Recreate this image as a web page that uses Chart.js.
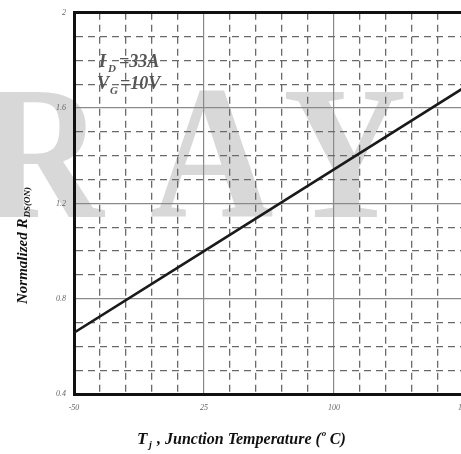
<!DOCTYPE html>
<html>
<head>
<meta charset="utf-8">
<script src="https://cdn.jsdelivr.net/npm/chart.js@4"></script>
<style>
  html, body { margin: 0; padding: 0; background: #fff; overflow: hidden; }
  #wrap { width: 480px; height: 454px; }
</style>
</head>
<body>
<div id="wrap"><canvas id="rds-chart" width="480" height="454"></canvas></div>
<script>
// junction temperature (deg C) vs normalized Rds(on)
var temp_c = [-50, 25, 100, 175];
var rds_norm = [0.657, 1.0, 1.343, 1.686];

var x_major = [-50, 25, 100, 175];
var y_major = [0.4, 0.8, 1.2, 1.6, 2];

var serif = "'Liberation Serif', 'DejaVu Serif', serif";

function is_major_x(v) {
  return x_major.indexOf(Math.round(v)) >= 0;
}
function is_major_y(v) {
  return Math.round(v * 10) % 4 === 0;
}

// background watermark + text with subscripts
var extras = {
  id: "extras",
  beforeDraw(chart) {
    var ctx = chart.ctx;
    var sx = 0.9;
    ctx.save();
    ctx.fillStyle = "rgba(190, 190, 190, 0.6)";
    ctx.font = "bold 190px " + serif;
    ctx.textBaseline = "alphabetic";
    ctx.scale(sx, 1);
    ctx.fillText("R", -20 / sx, 217);
    ctx.fillText("A", 150 / sx, 217);
    ctx.fillText("Y", 283 / sx, 217);
    ctx.restore();
  },
  afterDraw(chart) {
    var ctx = chart.ctx;
    ctx.save();
    ctx.textBaseline = "alphabetic";

    // conditions box
    ctx.fillStyle = "#555";
    ctx.font = "bold italic 18px " + serif;
    ctx.fillText("I", 99, 67);
    ctx.font = "bold italic 11px " + serif;
    ctx.fillText("D", 108, 72);
    ctx.font = "bold italic 18px " + serif;
    ctx.fillText("=33A", 119, 67);
    ctx.fillText("V", 97, 89);
    ctx.font = "bold italic 11px " + serif;
    ctx.fillText("G", 110, 94);
    ctx.font = "bold italic 18px " + serif;
    ctx.fillText("=10V", 120, 89);

    // x title
    ctx.fillStyle = "#111";
    var x0 = 137, yb = 444;
    ctx.font = "bold italic 17px " + serif;
    ctx.fillText("T", x0, yb);
    ctx.font = "bold italic 10px " + serif;
    ctx.fillText("j", x0 + 12, yb + 4);
    ctx.font = "bold italic 16px " + serif;
    ctx.fillText(" , Junction Temperature (", x0 + 16, yb);
    var w = ctx.measureText(" , Junction Temperature (").width;
    ctx.font = "bold italic 9px " + serif;
    ctx.fillText("o", x0 + 16 + w + 1, yb - 8);
    ctx.font = "bold italic 16px " + serif;
    ctx.fillText(" C)", x0 + 16 + w + 5, yb);

    // y title (rotated)
    ctx.translate(27, 304);
    ctx.rotate(-Math.PI / 2);
    ctx.font = "bold italic 15px " + serif;
    ctx.fillText("Normalized R", 0, 0);
    var w2 = ctx.measureText("Normalized R").width;
    ctx.font = "bold italic 9px " + serif;
    ctx.fillText("DS(ON)", w2 + 1, 3);
    ctx.restore();
  },
};

new Chart(document.getElementById("rds-chart"), {
  type: "line",
  data: {
    datasets: [
      {
        label: "Rds(on)",
        data: temp_c.map((t, i) => ({ x: t, y: rds_norm[i] })),
        borderColor: "#1a1a1a",
        borderWidth: 2.6,
        pointRadius: 0,
        fill: false,
        tension: 0,
      },
    ],
  },
  options: {
    responsive: false,
    animation: false,
    layout: { padding: { top: 8, left: 0, right: 16, bottom: 0 } },
    plugins: { legend: { display: false }, tooltip: { enabled: false } },
    scales: {
      x: {
        type: "linear",
        min: -50,
        max: 175,
        afterFit: (s) => { s.height = 60; },
        ticks: {
          stepSize: 15,
          autoSkip: false,
          maxRotation: 0,
          padding: 9,
          color: "#666",
          font: { family: serif, style: "italic", size: 8 },
          callback: (v) => (is_major_x(v) ? String(Math.round(v)) : ""),
        },
        grid: {
          drawTicks: false,
          color: (c) => (c.tick && c.tick.value === -50 ? "#111" : is_major_x(c.tick ? c.tick.value : 0) ? "#8a8a8a" : "#6a6a6a"),
          lineWidth: (c) => (c.tick && c.tick.value === -50 ? 3 : is_major_x(c.tick ? c.tick.value : 0) ? 1.2 : 1.3),
        },
        border: {
          color: "#111",
          width: 3,
          dash: (c) => (c.tick && !is_major_x(c.tick.value) ? [7, 5] : []),
        },
      },
      y: {
        type: "linear",
        min: 0.4,
        max: 2,
        afterFit: (s) => { s.width = 74; },
        ticks: {
          stepSize: 0.1,
          autoSkip: false,
          padding: 8,
          color: "#666",
          font: { family: serif, style: "italic", size: 8 },
          callback: (v) => (is_major_y(v) ? String(parseFloat(v.toFixed(1))) : ""),
        },
        grid: {
          drawTicks: false,
          color: (c) => (c.tick && Math.abs(c.tick.value - 2) < 1e-6 ? "#111" : is_major_y(c.tick ? c.tick.value : 0) ? "#8a8a8a" : "#6a6a6a"),
          lineWidth: (c) => (c.tick && Math.abs(c.tick.value - 2) < 1e-6 ? 3 : is_major_y(c.tick ? c.tick.value : 0) ? 1.2 : 1.3),
        },
        border: {
          color: "#111",
          width: 3,
          dash: (c) => (c.tick && !is_major_y(c.tick.value) ? [7, 5] : []),
        },
      },
    },
  },
  plugins: [extras],
});
</script>
</body>
</html>
